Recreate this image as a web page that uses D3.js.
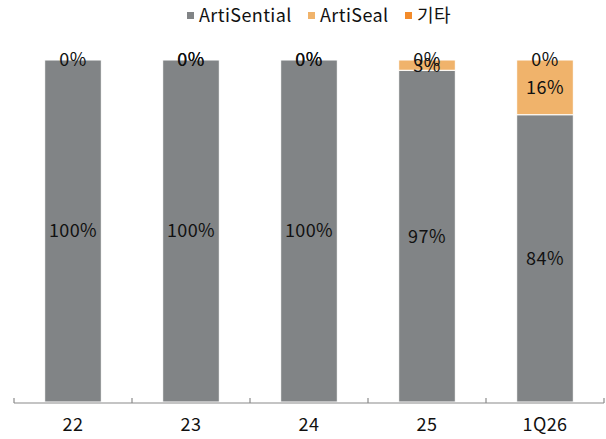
<!DOCTYPE html>
<html>
  <body style="margin:0">
    <style>
      body { background: #fff; }
      text { font-family: "Noto Sans CJK KR", "Noto Sans", sans-serif; letter-spacing: 0.4px; }
    </style>
    <script src="https://d3js.org/d3.v7.min.js"></script>
    <script type="text/javascript">
      const width = 606;
      const height = 439;

      const categories = ['22', '23', '24', '25', '1Q26'];
      const seriesNames = ['ArtiSential', 'ArtiSeal', '기타'];
      const artiSential = [100, 100, 100, 97, 84];
      const artiSeal = [null, 0, 0, 3, 16];
      const others = [0, 0, 0, 0, 0];
      const colors = ['#818486', '#F0B36B', '#F38B2B'];

      const data = categories.map((c, i) => ({
        cat: c,
        ArtiSential: artiSential[i],
        ArtiSeal: artiSeal[i],
        '기타': others[i],
      }));

      const svg = d3.select('body')
        .append('svg')
        .attr('width', width)
        .attr('height', height);

      const x = d3.scaleBand()
        .domain(categories)
        .range([14, 604])
        .paddingInner(0.52)
        .paddingOuter(0.26);

      const y = d3.scaleLinear()
        .domain([0, 100])
        .range([402, 60]);

      const series = d3.stack()
        .keys(seriesNames)
        .value((d, k) => d[k] || 0)(data);

      const groups = svg.selectAll('g.series')
        .data(series)
        .enter()
        .append('g')
        .attr('class', 'series')
        .attr('fill', (d, i) => colors[i]);

      groups.selectAll('rect')
        .data((d) => d)
        .enter()
        .append('rect')
        .attr('x', (d) => x(d.data.cat))
        .attr('y', (d) => y(d[1]))
        .attr('width', x.bandwidth())
        .attr('height', (d) => y(d[0]) - y(d[1]))
        .attr('stroke', '#fff')
        .attr('stroke-width', 1);

      // value labels (0% and 3% overlap at 25, as in the source)
      series.forEach((s) => {
        svg.append('g')
          .selectAll('text')
          .data(s.filter((d) => d.data[s.key] !== null))
          .enter()
          .append('text')
          .attr('x', (d) => x(d.data.cat) + x.bandwidth() / 2)
          .attr('y', (d) => (y(d[0]) + y(d[1])) / 2)
          .attr('dy', '0.36em')
          .attr('text-anchor', 'middle')
          .attr('font-size', 18)
          .attr('fill', '#111')
          .text((d) => d.data[s.key] + '%');
      });

      // x axis
      const axis = svg.append('g')
        .attr('transform', 'translate(0,403)');
      axis.append('line')
        .attr('x1', 14).attr('x2', 604)
        .attr('stroke', '#8a8a8a').attr('stroke-width', 1.2);
      const tickPos = d3.range(categories.length + 1).map((i) => 14 + i * (590 / categories.length));
      axis.selectAll('line.tick')
        .data(tickPos)
        .enter()
        .append('line')
        .attr('class', 'tick')
        .attr('x1', (d) => d).attr('x2', (d) => d)
        .attr('y1', -5).attr('y2', 0)
        .attr('stroke', '#8a8a8a').attr('stroke-width', 1.2);
      axis.selectAll('text')
        .data(categories)
        .enter()
        .append('text')
        .attr('x', (d) => x(d) + x.bandwidth() / 2)
        .attr('y', 22)
        .attr('dy', '0.36em')
        .attr('text-anchor', 'middle')
        .attr('font-size', 18)
        .attr('fill', '#111')
        .text((d) => d);

      // legend
      const legendX = [187, 308, 405];
      const legend = svg.append('g');
      seriesNames.forEach((name, i) => {
        legend.append('rect')
          .attr('x', legendX[i]).attr('y', 12)
          .attr('width', 7).attr('height', 7)
          .attr('fill', colors[i]);
        legend.append('text')
          .attr('x', legendX[i] + 12).attr('y', 16)
          .attr('dy', '0.36em')
          .attr('font-size', 18)
          .attr('fill', '#111')
          .text(name);
      });
    </script>
  </body>
</html>
